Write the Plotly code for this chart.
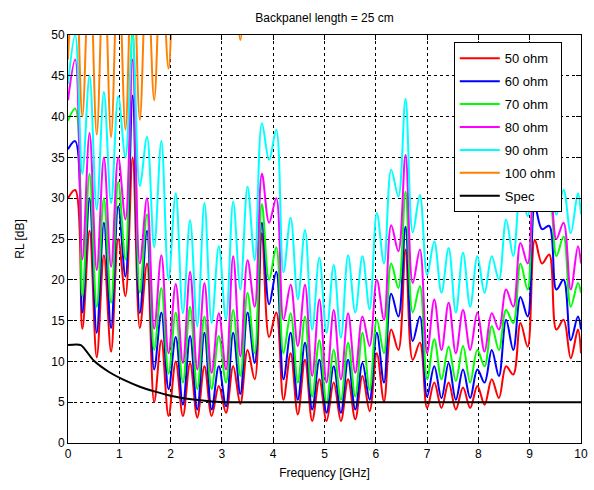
import plotly.graph_objects as go

# Frequency points (GHz) at the read-off extremes of the ripple
freq = [0.00, 0.14, 0.28, 0.42, 0.56, 0.70, 0.84, 0.98, 1.12, 1.26,
        1.40, 1.54, 1.68, 1.82, 1.96, 2.10, 2.24, 2.38, 2.52, 2.66,
        2.80, 2.94, 3.08, 3.22, 3.36, 3.50, 3.64, 3.78, 3.92, 4.06,
        4.20, 4.34, 4.48, 4.62, 4.76, 4.90, 5.04, 5.18, 5.32, 5.46,
        5.60, 5.74, 5.88, 6.02, 6.16, 6.30, 6.44, 6.58, 6.72, 6.86,
        7.00, 7.14, 7.28, 7.42, 7.56, 7.70, 7.84, 7.98, 8.12, 8.26,
        8.40, 8.54, 8.68, 8.82, 8.96, 9.10, 9.24, 9.38, 9.52, 9.66,
        9.80, 9.94, 10.00]

rl_50 = [30, 31, 14, 26, 10.5, 23, 11.2, 25, 18, 35,
         14.1, 22, 5, 12.6, 3.3, 10, 3.3, 9.8, 3.1, 9.4,
         3.3, 7, 3.7, 9.4, 4.8, 11.4, 7.8, 25.7, 13, 16,
         5.3, 11, 3.5, 10.2, 2.7, 7.8, 2.7, 7.4, 2.7, 7.8,
         2.9, 8.2, 3.9, 11, 5.1, 13.9, 11.4, 23.7, 10.2, 12.3,
         4.3, 7.4, 4.3, 7.4, 4.1, 6.8, 4.3, 7, 4.7, 7.8,
         5.5, 9.4, 8.4, 14.7, 11.8, 24.9, 22, 23.1, 13.9, 15.1,
         10.4, 13.9, 11]

rl_60 = [36, 37, 16, 30, 13.5, 27, 14.1, 29, 20.4, 42.6,
         15.9, 26, 9, 16, 6.6, 13, 4.7, 13.1, 4.1, 13.5,
         4.1, 9.4, 4.5, 13.5, 6.0, 16, 9.8, 27, 17, 21,
         7.8, 13.5, 5.3, 12.3, 4.1, 10.2, 3.7, 9.4, 3.7, 10.2,
         4.1, 9.8, 5.3, 13.5, 7.4, 18.3, 15.5, 26.5, 12.5, 15.5,
         5.7, 9.4, 5.5, 9.8, 5.3, 9, 5.5, 9, 7.4, 11.4,
         8.2, 15.1, 11.4, 17.9, 15.5, 29, 26.2, 26.6, 18.8, 20,
         12.6, 15.5, 13.9]

rl_70 = [39.5, 41, 18, 33, 16.7, 30, 17.2, 32, 22.5, 51,
         18.4, 28, 11.4, 19, 8.5, 16, 7.4, 16.7, 6.6, 15.5,
         6.6, 13.1, 7.4, 16.3, 8.2, 18.4, 11, 29.3, 20, 24,
         11, 15.9, 7.4, 15.5, 5.7, 12.6, 4.9, 11.4, 5.3, 12.3,
         5.7, 13.5, 6.5, 15.1, 11, 22, 19, 30.8, 16, 19.2,
         7.8, 12.7, 7.8, 11.8, 7.6, 11.9, 7.4, 11.4, 9.4, 14.3,
         11.4, 16.3, 14.7, 22, 18.8, 31, 29, 30.2, 22.9, 25.3,
         16.7, 19.6, 18.4]

rl_80 = [42, 47, 22.5, 38, 21.2, 35, 21.6, 35, 27.4, 47,
         22, 30, 14, 23, 11, 19.5, 9.8, 21, 9, 19.6,
         8.6, 15.9, 9, 22.9, 10.6, 22.4, 16.7, 33, 27, 30,
         15.1, 19.4, 11.9, 19.4, 8.2, 17.6, 7.4, 16.3, 7.8, 15.9,
         8.6, 15.5, 11.9, 20, 15.1, 26.7, 23.5, 35.3, 19.6, 23.7,
         11, 17.6, 11.4, 17.2, 11, 16.3, 11.4, 16, 11.2, 15.9,
         13.9, 18.8, 16.7, 24.5, 22, 33, 30, 32, 25, 27,
         18.8, 24.1, 22]

rl_90 = [44, 50, 33, 45, 28.6, 43, 29.4, 42.5, 35, 50,
         31.5, 37.5, 24, 37, 20, 30.6, 15.9, 27.3, 14.3, 29.4,
         14.7, 24.1, 15.1, 29.6, 18.8, 31.4, 22.4, 39.2, 34.7, 38.4,
         20.9, 27.6, 17.6, 26.1, 13.9, 22.7, 13.5, 21.8, 12.9, 23,
         16, 22.9, 16.4, 28.2, 22, 33.5, 30.2, 42.2, 25.8, 30.4,
         20.6, 24.7, 18.4, 23.9, 16, 23.3, 16.7, 22.9, 18.4, 22.9,
         20, 27.4, 22.9, 31, 27.8, 36, 32, 35, 28, 31,
         25.7, 30.6, 28]

rl_100 = [47, 60, 40, 60, 37.8, 60, 37.5, 60, 38.4, 62,
          39.6, 60, 42, 60, 45.9, 62, 53, 62, 52, 62,
          51, 60, 50.5, 61, 49.4, 62, 53, 66, 58, 64,
          54, 60, 53, 60, 52, 59, 52, 59, 52, 59,
          53, 60, 54, 62, 57, 65, 62, 70, 58, 62,
          54, 58, 54, 58, 53, 58, 53, 58, 54, 59,
          55, 61, 57, 63, 60, 68, 66, 67, 60, 62,
          57, 60, 58]

spec_freq = [0.0, 0.25, 0.5, 0.8, 1.1, 1.4, 1.7, 2.0, 2.4, 2.8, 3.2, 3.5, 10.0]
spec_rl = [12.0, 12.0, 10.1, 8.7, 7.7, 6.9, 6.3, 5.8, 5.35, 5.1, 5.0, 5.0, 5.0]

series_names = ["50 ohm", "60 ohm", "70 ohm", "80 ohm", "90 ohm", "100 ohm"]
series_vals = [rl_50, rl_60, rl_70, rl_80, rl_90, rl_100]
series_colors = ["#FF0000", "#0000FF", "#00FF00", "#FF00FF", "#00FFFF", "#FF8000"]

x_ticks = [0, 1, 2, 3, 4, 5, 6, 7, 8, 9, 10]
y_ticks = [0, 5, 10, 15, 20, 25, 30, 35, 40, 45, 50]

fig = go.Figure()
for name, vals, col in zip(series_names, series_vals, series_colors):
    fig.add_trace(go.Scatter(
        x=freq, y=vals, mode="lines", name=name, legendgroup=name,
        line=dict(color=col, width=2, shape="spline", smoothing=1.0)))
fig.add_trace(go.Scatter(
    x=spec_freq, y=spec_rl, mode="lines", name="Spec", legendgroup="Spec",
    line=dict(color="black", width=2, shape="spline", smoothing=0.6)))

axis_common = dict(
    showline=True, linecolor="black", linewidth=1, mirror="ticks",
    ticks="inside", ticklen=5, tickcolor="black",
    showgrid=True, gridcolor="black", gridwidth=1, griddash="3px,3px",
    zeroline=False, tickfont=dict(size=12, color="black"),
    ticklabeloverflow="allow")

fig.update_xaxes(range=[0, 10], tickvals=x_ticks,
                 title=dict(text="Frequency [GHz]", font=dict(size=12), standoff=8),
                 **axis_common)
fig.update_yaxes(range=[0, 50], tickvals=y_ticks,
                 title=dict(text="RL [dB]", font=dict(size=12), standoff=24),
                 **axis_common)

fig.update_layout(
    width=594, height=490,
    margin=dict(l=68, r=6, t=35, b=46.5),
    paper_bgcolor="white", plot_bgcolor="white",
    font=dict(family="Liberation Sans, Arial, sans-serif", size=12, color="black"),
    title=dict(text="Backpanel length = 25 cm", x=0.5, xref="paper",
               y=1 - 18 / 490, yanchor="middle", font=dict(size=12)),
    legend=dict(x=0.752, y=0.982, xanchor="left", yanchor="top",
                bgcolor="white", bordercolor="black", borderwidth=1,
                font=dict(size=13), traceorder="grouped", tracegroupgap=3,
                itemwidth=40),
    showlegend=True,
)

fig.write_html("out.html")
